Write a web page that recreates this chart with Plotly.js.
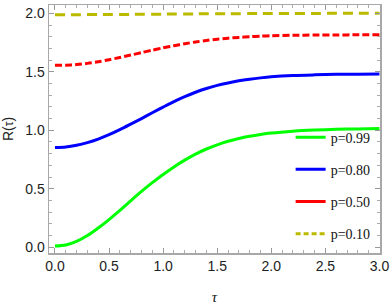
<!DOCTYPE html>
<html>
<head>
<meta charset="utf-8">
<script src="https://cdn.plot.ly/plotly-3.0.1.min.js"></script>
<style>html,body{margin:0;padding:0;background:#fff;}#chart{width:390px;height:308px;}</style>
</head>
<body>
<div id="chart"></div>
<script>
const tau  = [0, 0.1, 0.2, 0.3, 0.4, 0.5, 0.6, 0.7, 0.8, 0.9, 1.0, 1.1, 1.2, 1.3, 1.4, 1.5, 1.6, 1.7, 1.8, 1.9, 2.0, 2.2, 2.4, 2.6, 2.8, 3.0];
const r099 = [0.01, 0.02, 0.05, 0.10, 0.165, 0.237, 0.315, 0.397, 0.477, 0.552, 0.622, 0.687, 0.745, 0.796, 0.84, 0.876, 0.906, 0.93, 0.949, 0.964, 0.976, 0.992, 1.002, 1.008, 1.012, 1.015];
const r080 = [0.852, 0.857, 0.872, 0.895, 0.925, 0.962, 1.005, 1.052, 1.10, 1.15, 1.198, 1.245, 1.287, 1.325, 1.357, 1.384, 1.405, 1.423, 1.437, 1.448, 1.457, 1.468, 1.474, 1.478, 1.48, 1.481];
const r050 = [1.555, 1.557, 1.562, 1.572, 1.586, 1.603, 1.622, 1.643, 1.664, 1.685, 1.705, 1.723, 1.74, 1.755, 1.768, 1.778, 1.787, 1.794, 1.80, 1.805, 1.808, 1.812, 1.814, 1.815, 1.816, 1.816];
const r010 = [1.988, 1.988, 1.988, 1.989, 1.989, 1.99, 1.99, 1.991, 1.992, 1.992, 1.993, 1.994, 1.994, 1.995, 1.996, 1.996, 1.997, 1.997, 1.998, 1.998, 1.998, 1.999, 1.999, 2.0, 2.0, 2.0];
const seriesNames = ["p=0.99", "p=0.80", "p=0.50", "p=0.10"];
const xTitle = "τ";
const yTitle = "R(<span style='font-size:12px'>τ</span>)";

const colors = ["#00ff00", "#0000ff", "#ff0000", "rgb(188,186,0)"];
const dashes = ["solid", "solid", "7px,3px", "10px,6px"];
const legendDashes = ["solid", "solid", "solid", "5px,3px"];
const ys = [r099, r080, r050, r010];

const traces = [];
ys.forEach((y, i) => {
  traces.push({
    x: tau, y: y, type: "scatter", mode: "lines",
    line: {color: colors[i], width: 3, dash: dashes[i], shape: "spline", smoothing: 0.8},
    showlegend: false, hoverinfo: "skip"
  });
});
seriesNames.forEach((n, i) => {
  traces.push({
    x: [null], y: [null], type: "scatter", mode: "lines", name: n,
    legendgroup: "g" + i,
    line: {color: colors[i], width: 3, dash: legendDashes[i]}
  });
});

const axisCommon = {
  showgrid: false, zeroline: false,
  showline: true, linecolor: "#a8a8a8", linewidth: 1.5, mirror: "allticks",
  ticks: "inside", ticklen: 5, tickwidth: 1, tickcolor: "#999",
  minor: {ticks: "inside", ticklen: 3, tickwidth: 1, tickcolor: "#aaa", dtick: 0.1},
  tickfont: {family: "Liberation Sans, Arial, sans-serif", size: 14, color: "#222"}
};

const layout = {
  width: 390, height: 308,
  margin: {l: 49, r: 10, t: 5, b: 55},
  paper_bgcolor: "#fff", plot_bgcolor: "#fff",
  showlegend: true,
  legend: {
    x: 0.73, xanchor: "left", y: 0.53, yanchor: "top",
    bgcolor: "rgba(0,0,0,0)", borderwidth: 0,
    tracegroupgap: 11,
    font: {family: "Liberation Serif, Times New Roman, serif", size: 14, color: "#111"}
  },
  xaxis: Object.assign({}, axisCommon, {
    range: [-0.055, 3.005], tick0: 0, dtick: 0.5, tickformat: ".1f",
    title: {text: "<i>" + xTitle + "</i>", font: {family: "Liberation Serif, serif", size: 15, color: "#111"}, standoff: 18}
  }),
  yaxis: Object.assign({}, axisCommon, {
    range: [-0.049, 2.071], tick0: 0, dtick: 0.5, tickformat: ".1f",
    title: {text: yTitle, font: {family: "Liberation Sans, Arial, sans-serif", size: 14, color: "#222"}}
  })
};

Plotly.newPlot("chart", traces, layout, {staticPlot: true, displayModeBar: false});
</script>
</body>
</html>
